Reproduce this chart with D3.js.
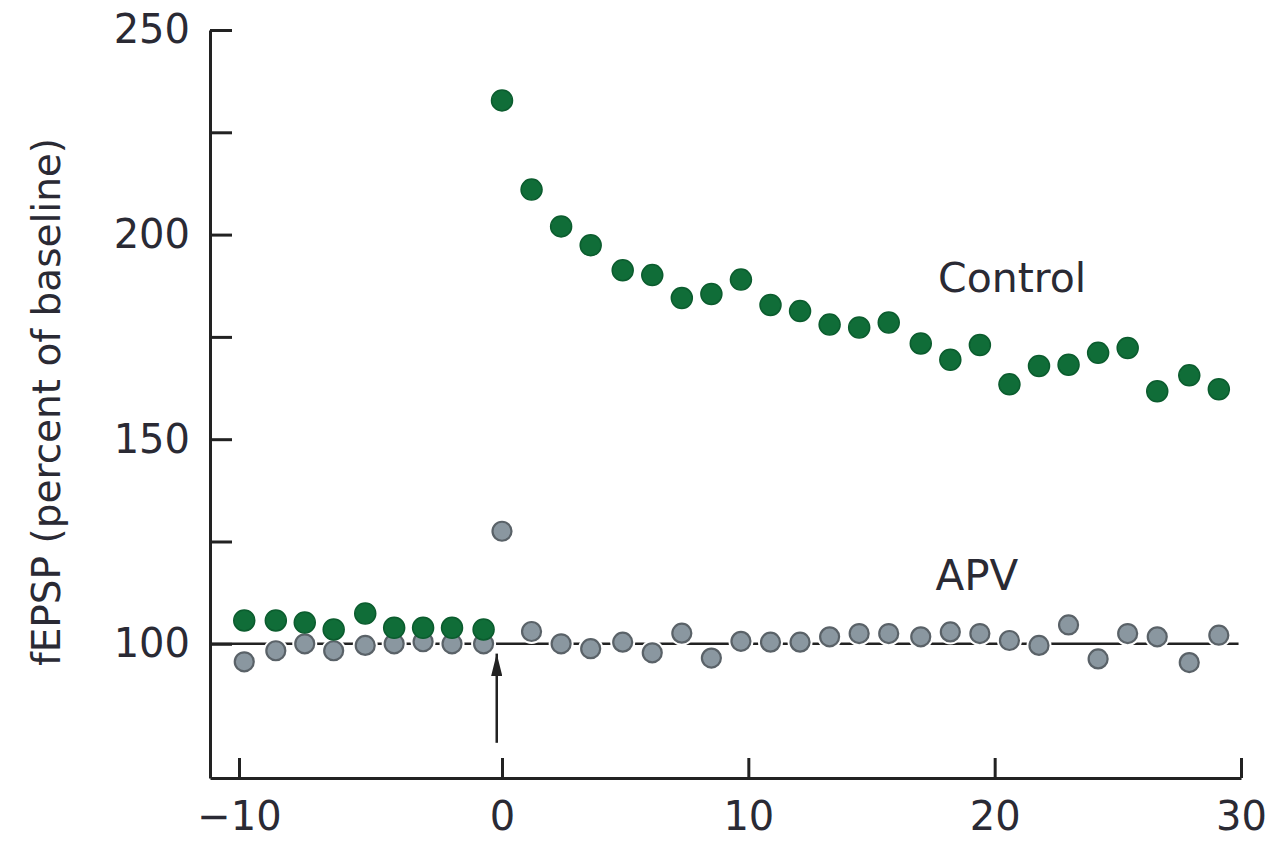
<!DOCTYPE html>
<html>
<head>
<meta charset="utf-8">
<script src="https://cdn.jsdelivr.net/npm/d3@7"></script>
<style>
  body { margin: 0; background: #fff; }
  text { font-family: "DejaVu Sans", sans-serif; fill: #2a2a34; }
</style>
</head>
<body>
<div id="chart"></div>
<script>
// times (min) and values (% of baseline)
const preTimes = [-9.8, -8.6, -7.5, -6.4, -5.2, -4.1, -3.0, -1.9, -0.7];
const postTimes = [0, 1.2, 2.4, 3.6, 4.9, 6.1, 7.3, 8.5, 9.7, 10.9, 12.1, 13.3, 14.5,
  15.7, 17.0, 18.2, 19.4, 20.6, 21.8, 23.0, 24.2, 25.4, 26.6, 27.9, 29.1];

const controlPre = [105.7, 105.7, 105.2, 103.5, 107.4, 103.9, 103.9, 103.9, 103.5];
const controlPost = [232.8, 211, 202, 197.4, 191.3, 190.1, 184.5, 185.5, 189, 182.8, 181.3,
  178, 177.3, 178.5, 173.4, 169.4, 173, 163.4, 167.9, 168.2, 171.1, 172.3, 161.7, 165.6, 162.2];

const apvPre = [95.6, 98.3, 100, 98.3, 99.6, 100, 100.5, 100, 100];
const apvPost = [127.5, 103, 100, 98.8, 100.4, 97.8, 102.6, 96.5, 100.6, 100.4, 100.4,
  101.7, 102.5, 102.5, 101.7, 102.9, 102.5, 100.8, 99.6, 104.6, 96.3, 102.5, 101.7, 95.4, 102.1];

const xTicks = [-10, 0, 10, 20, 30];
const yTicks = [100, 125, 150, 175, 200, 225, 250];
const yLabels = [100, 150, 200, 250];
const baseline = 100;

let W = 1271, H = 843;

let svg = d3.select("#chart").append("svg")
    .attr("width", W)
    .attr("height", H);

svg.append("rect").attr("width", W).attr("height", H).attr("fill", "#fff");

// x axis is drawn a bit wider left of -10 (axis corner)
let x = d3.scaleLinear()
    .domain([-11.15, -10, 0, 30])
    .range([210, 239, 502, 1241]);

let y = d3.scaleLinear()
    .domain([67.2, 250])
    .range([778, 30]);

let fmt = d => d < 0 ? "\u2212" + Math.abs(d) : String(d);

let xAxis = svg.append("g")
    .attr("transform", "translate(0," + y(67.2) + ")")
    .call(d3.axisBottom(x).tickValues(xTicks).tickFormat(fmt)
        .tickSizeInner(-20).tickSizeOuter(0).tickPadding(24));

let yAxis = svg.append("g")
    .attr("transform", "translate(" + x(-11.15) + ",0)")
    .call(d3.axisLeft(y).tickValues(yTicks)
        .tickFormat(d => yLabels.includes(d) ? d : "")
        .tickSizeInner(-22).tickSizeOuter(0).tickPadding(20));

[xAxis, yAxis].forEach(ax => {
    ax.select(".domain").attr("stroke", "#222").attr("stroke-width", 3);
    ax.selectAll(".tick line").attr("stroke", "#222").attr("stroke-width", 3);
    ax.selectAll(".tick text")
        .style("font-family", "DejaVu Sans, sans-serif")
        .style("font-size", "40px")
        .attr("fill", "#2a2a34");
});

// y title
svg.append("text")
    .attr("transform", "translate(60,402) rotate(-90)")
    .attr("text-anchor", "middle")
    .style("font-size", "39px")
    .text("fEPSP (percent of baseline)");

// baseline at 100
svg.append("line")
    .attr("x1", x(-11.15)).attr("x2", x(29.9))
    .attr("y1", y(baseline)).attr("y2", y(baseline))
    .attr("stroke", "#222").attr("stroke-width", 2.5);

// stimulus arrow
let arrowX = -0.2, arrowFrom = 75.8, arrowTo = 97.6;
svg.append("defs").append("marker")
    .attr("id", "head")
    .attr("viewBox", "0 0 20 10")
    .attr("refX", 20).attr("refY", 5)
    .attr("markerWidth", 9).attr("markerHeight", 4.5)
    .attr("markerUnits", "strokeWidth")
    .attr("orient", "auto")
    .append("path")
    .attr("d", "M0,0 L20,5 L0,10 Z")
    .attr("fill", "#222");

svg.append("line")
    .attr("x1", x(arrowX)).attr("x2", x(arrowX))
    .attr("y1", y(arrowFrom)).attr("y2", y(arrowTo))
    .attr("stroke", "#222").attr("stroke-width", 2.5)
    .attr("marker-end", "url(#head)");

let apv = preTimes.map((t, i) => [t, apvPre[i]])
    .concat(postTimes.map((t, i) => [t, apvPost[i]]));
let control = preTimes.map((t, i) => [t, controlPre[i]])
    .concat(postTimes.map((t, i) => [t, controlPost[i]]));

// white halo under APV dots (breaks the baseline like the original)
svg.append("g").selectAll("circle")
    .data(apv)
    .join("circle")
    .attr("cx", d => x(d[0]))
    .attr("cy", d => y(d[1]))
    .attr("r", 12.5)
    .attr("fill", "#fff");

svg.append("g").selectAll("circle")
    .data(apv)
    .join("circle")
    .attr("cx", d => x(d[0]))
    .attr("cy", d => y(d[1]))
    .attr("r", 9.5)
    .attr("fill", "#8a97a0")
    .attr("stroke", "#5a6268")
    .attr("stroke-width", 2.2);

svg.append("g").selectAll("circle")
    .data(control)
    .join("circle")
    .attr("cx", d => x(d[0]))
    .attr("cy", d => y(d[1]))
    .attr("r", 10.5)
    .attr("fill", "#106d38")
    .attr("stroke", "#0b5c2e")
    .attr("stroke-width", 1.5);

// series labels
svg.append("text")
    .attr("x", x(17.7)).attr("y", y(186))
    .style("font-size", "41px")
    .text("Control");

svg.append("text")
    .attr("x", x(17.6)).attr("y", y(113.2))
    .style("font-size", "42px")
    .text("APV");
</script>
</body>
</html>
